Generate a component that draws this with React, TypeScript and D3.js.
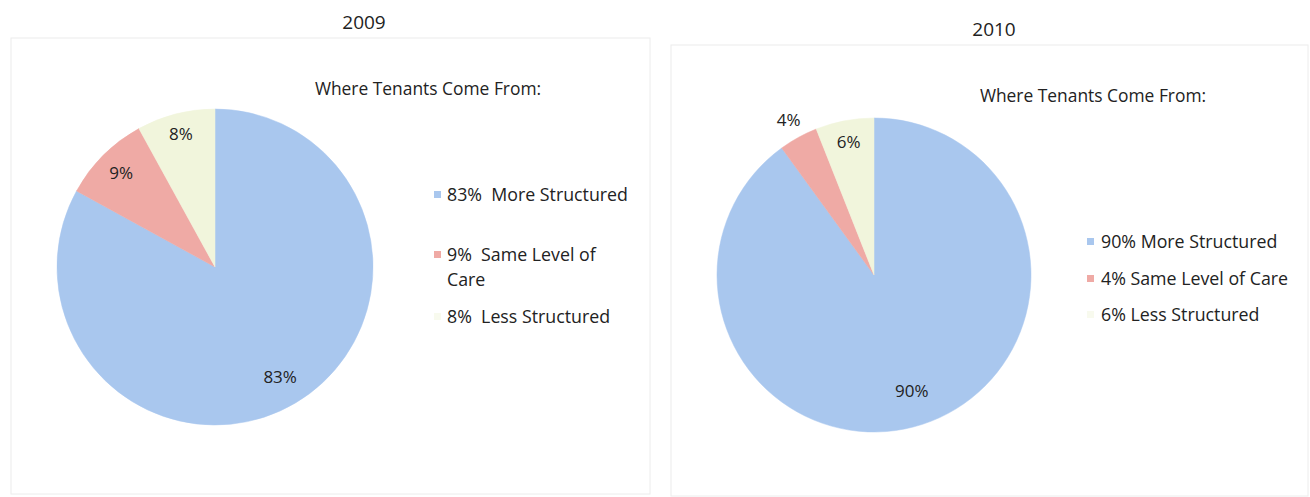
import React from "react";
import * as d3 from "d3";

const categories = ["More Structured", "Same Level of Care", "Less Structured"];
const years = ["2009", "2010"];
const values2009 = [83, 9, 8];
const values2010 = [90, 4, 6];
const legendTitle = "Where Tenants Come From:";
const legend2009 = [["83%  More Structured"], ["9%  Same Level of", "Care"], ["8%  Less Structured"]];
const legend2010 = [["90% More Structured"], ["4% Same Level of Care"], ["6% Less Structured"]];
const sliceColors = ["#a9c7ee", "#efaaa5", "#f1f5dc"];
const markerColors = ["#a9c7ee", "#efaaa5", "#f8faee"];

const FONT = "'Open Sans', Lato, sans-serif";

type PanelCfg = {
  year: string;
  values: number[];
  legend: string[][];
  box: [number, number, number, number];
  titleXY: [number, number];
  cx: number;
  cy: number;
  r: number;
  labelR: number[];
  legendTitleXY: [number, number];
  legendX: number;
  legendYs: number[];
  markerX: number;
};

const panels: PanelCfg[] = [
  {
    year: years[0],
    values: values2009,
    legend: legend2009,
    box: [11, 38, 650, 494],
    titleXY: [364, 29],
    cx: 215,
    cy: 267,
    r: 158,
    labelR: [0.81, 0.84, 0.87],
    legendTitleXY: [428, 95],
    legendX: 447,
    legendYs: [201, 261, 323],
    markerX: 437,
  },
  {
    year: years[1],
    values: values2010,
    legend: legend2010,
    box: [671, 45, 1308, 496],
    titleXY: [994, 36],
    cx: 874,
    cy: 275,
    r: 157,
    labelR: [0.78, 1.13, 0.86],
    legendTitleXY: [1093, 102],
    legendX: 1101,
    legendYs: [248, 285, 321],
    markerX: 1090,
  },
];

function Panel({ p }: { p: PanelCfg }) {
  const pie = d3
    .pie<number>()
    .sort(null)
    .value((d) => d)
    .startAngle(0)
    .endAngle(2 * Math.PI);
  const arcs = pie(p.values);
  const arc = d3.arc<d3.PieArcDatum<number>>().innerRadius(0).outerRadius(p.r);
  const color = d3.scaleOrdinal<string, string>().domain(categories).range(sliceColors);
  const mColor = d3.scaleOrdinal<string, string>().domain(categories).range(markerColors);
  const [x0, y0, x1, y1] = p.box;
  return (
    <g>
      <rect x={x0} y={y0} width={x1 - x0} height={y1 - y0} fill="#fff" stroke="#ececec" strokeWidth={1} />
      <text x={p.titleXY[0]} y={p.titleXY[1]} textAnchor="middle" fontFamily={FONT} fontSize={19} fill="#222">
        {p.year}
      </text>
      <g transform={`translate(${p.cx},${p.cy})`}>
        {arcs.map((a, i) => (
          <path key={i} d={arc(a) || ""} fill={color(categories[i])} stroke={color(categories[i])} strokeWidth={0.5} />
        ))}
        {arcs.map((a, i) => {
          const lr = p.r * p.labelR[i];
          const la = d3.arc<d3.PieArcDatum<number>>().innerRadius(lr).outerRadius(lr);
          const [lx, ly] = la.centroid(a);
          return (
            <text key={i} x={lx} y={ly} dy="0.35em" textAnchor="middle" fontFamily={FONT} fontSize={17} fill="#222">
              {`${a.data}%`}
            </text>
          );
        })}
      </g>
      <text x={p.legendTitleXY[0]} y={p.legendTitleXY[1]} textAnchor="middle" fontFamily={FONT} fontSize={17.4} fill="#222">
        {legendTitle}
      </text>
      {p.legend.map((lines, i) => (
        <g key={i}>
          <rect x={p.markerX - 3} y={p.legendYs[i] - 10} width={7} height={7} fill={mColor(categories[i])} />
          {lines.map((ln, j) => (
            <text key={j} x={p.legendX} y={p.legendYs[i] + j * 25} fontFamily={FONT} fontSize={17.8} fill="#222" xmlSpace="preserve">
              {ln}
            </text>
          ))}
        </g>
      ))}
    </g>
  );
}

export default function App() {
  return (
    <svg width={1310} height={497} style={{ position: "absolute", left: 0, top: 0, background: "#fff" }}>
      {panels.map((p) => (
        <Panel key={p.year} p={p} />
      ))}
    </svg>
  );
}
